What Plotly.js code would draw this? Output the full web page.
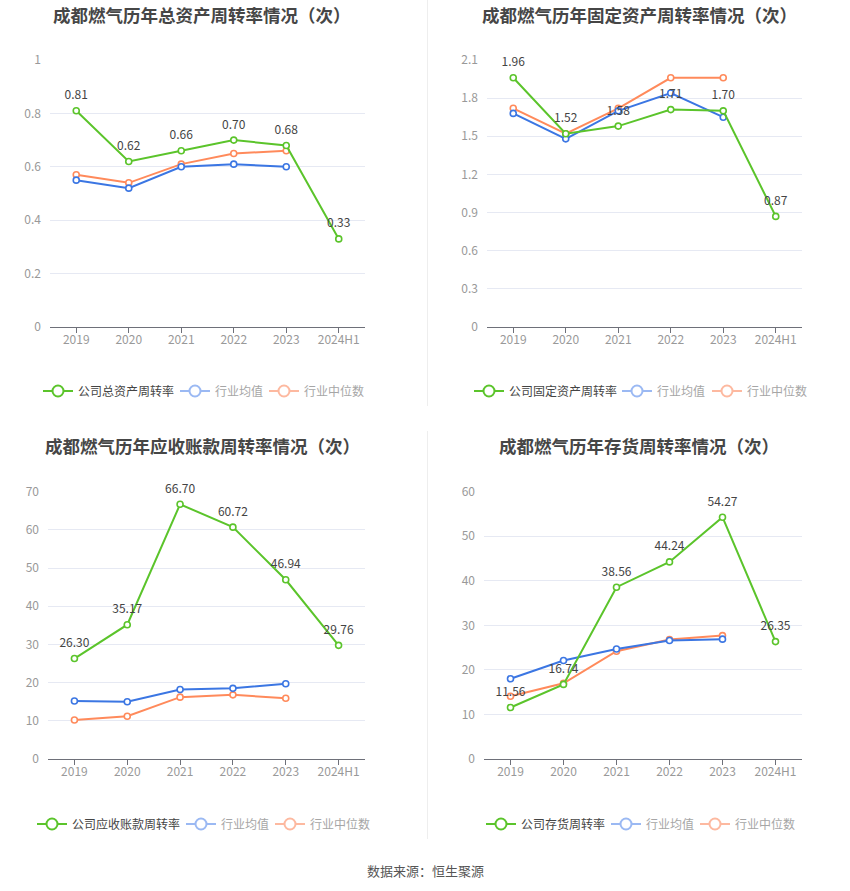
<!DOCTYPE html>
<html>
<head>
<meta charset="utf-8">
<script src="https://cdn.plot.ly/plotly-3.0.1.min.js"></script>
<style>
  html, body { margin: 0; padding: 0; background: #fff; }
  #chart { width: 850px; height: 891px; }
</style>
</head>
<body>
<div id="chart"></div>
<script>
// ---- data ----
const years = ['2019', '2020', '2021', '2022', '2023', '2024H1'];
const industryYears = ['2019', '2020', '2021', '2022', '2023'];

const totalAssetCompany = [0.81, 0.62, 0.66, 0.70, 0.68, 0.33];
const totalAssetAvg = [0.55, 0.52, 0.60, 0.61, 0.60];
const totalAssetMedian = [0.57, 0.54, 0.61, 0.65, 0.66];

const fixedAssetCompany = [1.96, 1.52, 1.58, 1.71, 1.70, 0.87];
const fixedAssetAvg = [1.68, 1.48, 1.70, 1.84, 1.65];
const fixedAssetMedian = [1.72, 1.52, 1.72, 1.96, 1.96];

const receivableCompany = [26.30, 35.17, 66.70, 60.72, 46.94, 29.76];
const receivableAvg = [15.2, 15.0, 18.2, 18.5, 19.7];
const receivableMedian = [10.2, 11.2, 16.2, 16.8, 15.9];

const inventoryCompany = [11.56, 16.74, 38.56, 44.24, 54.27, 26.35];
const inventoryAvg = [18.0, 22.1, 24.7, 26.6, 26.9];
const inventoryMedian = [14.1, 17.0, 24.2, 26.8, 27.7];

const titles = [
  '成都燃气历年总资产周转率情况（次）',
  '成都燃气历年固定资产周转率情况（次）',
  '成都燃气历年应收账款周转率情况（次）',
  '成都燃气历年存货周转率情况（次）'
];
const companyNames = ['公司总资产周转率', '公司固定资产周转率', '公司应收账款周转率', '公司存货周转率'];
const avgName = '行业均值';
const medianName = '行业中位数';
const source = '数据来源：恒生聚源';

// ---- styling ----
const GREEN = '#5bc42b';
const BLUE = '#3b76e3';
const ORANGE = '#ff8a5b';
const GREEN_L = '#5bc42b';
const BLUE_L = '#9bb9f3';
const ORANGE_L = '#fdb9a0';
const FONT = '"Noto Sans CJK SC", "Noto Sans", sans-serif';

const W = 850, H = 891;
const px = v => v / W;
const py = v => 1 - v / H;

const panels = [
  { company: totalAssetCompany, avg: totalAssetAvg, median: totalAssetMedian,
    x0: 50, x1: 365, yTop: 60, yBot: 327, range: [0, 1], dtick: 0.2,
    titleX: 202, titleY: 14, legText: [79, 216, 305], legY: 391 },
  { company: fixedAssetCompany, avg: fixedAssetAvg, median: fixedAssetMedian,
    x0: 487, x1: 802, yTop: 60, yBot: 327, range: [0, 2.1], dtick: 0.3,
    titleX: 639, titleY: 14, legText: [510, 658, 748], legY: 391 },
  { company: receivableCompany, avg: receivableAvg, median: receivableMedian,
    x0: 48, x1: 365, yTop: 491.7, yBot: 759, range: [0, 70], dtick: 10,
    titleX: 202, titleY: 445, legText: [73, 222, 311], legY: 824 },
  { company: inventoryCompany, avg: inventoryAvg, median: inventoryMedian,
    x0: 484, x1: 802, yTop: 491.7, yBot: 759, range: [0, 60], dtick: 10,
    titleX: 639, titleY: 445, legText: [522, 647, 736], legY: 824 }
];

const traces = [];
const layout = {
  width: W, height: H,
  margin: { l: 0, r: 0, t: 0, b: 0 },
  paper_bgcolor: '#ffffff',
  plot_bgcolor: '#ffffff',
  font: { family: FONT, size: 12, color: '#999' },
  annotations: [],
  shapes: [],
  hovermode: false
};

let legCount = 0;
panels.forEach((p, i) => {
  const n = i === 0 ? '' : String(i + 1);
  const xa = 'x' + n, ya = 'y' + n;

  const common = { xaxis: xa, yaxis: ya, type: 'scatter', showlegend: false, cliponaxis: false };

  traces.push(Object.assign({}, common, {
    x: industryYears, y: p.median, mode: 'lines+markers',
    line: { color: ORANGE, width: 2 },
    marker: { symbol: 'circle', size: 6, color: '#fff', line: { color: ORANGE, width: 1.6 } }
  }));
  traces.push(Object.assign({}, common, {
    x: industryYears, y: p.avg, mode: 'lines+markers',
    line: { color: BLUE, width: 2 },
    marker: { symbol: 'circle', size: 6, color: '#fff', line: { color: BLUE, width: 1.6 } }
  }));
  traces.push(Object.assign({}, common, {
    x: years, y: p.company, mode: 'lines+markers',
    line: { color: GREEN, width: 2 },
    marker: { symbol: 'circle', size: 6, color: '#fff', line: { color: GREEN, width: 1.6 } }
  }));
  // value labels (transparent markers give the label its offset above the point)
  traces.push(Object.assign({}, common, {
    x: years, y: p.company, mode: 'markers+text',
    text: p.company.map(v => v.toFixed(2)),
    textposition: 'top center',
    textfont: { family: FONT, size: 12, color: '#444' },
    marker: { size: 12, opacity: 0 }
  }));

  // legend entries, one legend box per entry
  const legItems = [
    { name: '<span style="color:#444">' + companyNames[i] + '</span>', c: GREEN_L },
    { name: '<span style="color:#a6a6a6">' + avgName + '</span>', c: BLUE_L },
    { name: '<span style="color:#a6a6a6">' + medianName + '</span>', c: ORANGE_L }
  ];
  legItems.forEach((it, k) => {
    legCount += 1;
    const legendId = legCount === 1 ? 'legend' : 'legend' + legCount;
    traces.push({
      xaxis: xa, yaxis: ya, type: 'scatter', mode: 'lines+markers',
      x: [null], y: [null], name: it.name, legend: legendId, showlegend: true,
      line: { color: it.c, width: 2 },
      marker: { symbol: 'circle', size: 11, color: '#fff', line: { color: it.c, width: 2 } }
    });
    layout[legendId] = {
      orientation: 'h', x: px(p.legText[k] - 41), y: py(p.legY), xanchor: 'left', yanchor: 'middle',
      bgcolor: 'rgba(0,0,0,0)', borderwidth: 0,
      font: { family: FONT, size: 12, color: '#a6a6a6' },
      itemwidth: 30, itemclick: false, itemdoubleclick: false
    };
  });

  layout['xaxis' + n] = {
    domain: [px(p.x0), px(p.x1)], anchor: ya,
    type: 'category', categoryorder: 'array', categoryarray: years,
    range: [-0.5, 5.5], fixedrange: true,
    showgrid: false, zeroline: false,
    showline: true, linecolor: '#6e7079', linewidth: 1,
    ticks: 'outside', ticklen: 5, tickcolor: '#6e7079', tickwidth: 1,
    ticklabelstandoff: -3,
    tickfont: { family: FONT, size: 12, color: '#999' }
  };
  layout['yaxis' + n] = {
    domain: [py(p.yBot), py(p.yTop)], anchor: xa,
    range: p.range, dtick: p.dtick, tick0: 0, fixedrange: true,
    showgrid: true, gridcolor: '#e6e9f3', gridwidth: 1,
    zeroline: false, showline: false, ticks: '',
    ticklabelstandoff: 8,
    tickfont: { family: FONT, size: 12, color: '#999' }
  };

  layout.annotations.push({
    xref: 'paper', yref: 'paper', x: px(p.titleX), y: py(p.titleY),
    xanchor: 'center', yanchor: 'middle', showarrow: false,
    text: '<b>' + titles[i] + '</b>',
    font: { family: FONT, size: 17.5, color: '#464646' }
  });
});

layout.annotations.push({
  xref: 'paper', yref: 'paper', x: px(425), y: py(870),
  xanchor: 'center', yanchor: 'middle', showarrow: false,
  text: source, font: { family: FONT, size: 13, color: '#555' }
});

layout.shapes.push(
  { type: 'line', xref: 'paper', yref: 'paper', x0: px(427.5), x1: px(427.5), y0: py(0), y1: py(406),
    line: { color: '#eeeeee', width: 1 } },
  { type: 'line', xref: 'paper', yref: 'paper', x0: px(427.5), x1: px(427.5), y0: py(431), y1: py(839),
    line: { color: '#eeeeee', width: 1 } }
);

Plotly.newPlot('chart', traces, layout, { displayModeBar: false, staticPlot: true });
</script>
</body>
</html>
